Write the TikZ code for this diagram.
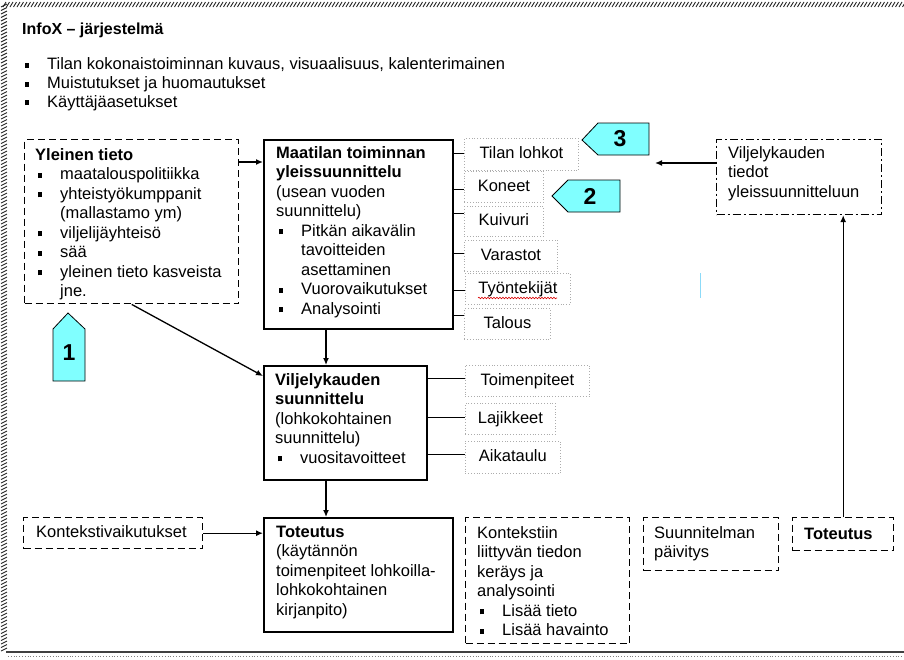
\documentclass[tikz,border=0pt]{standalone}
\usepackage{fontspec}
\setmainfont{Liberation Sans}
\usetikzlibrary{arrows.meta,calc,decorations.pathmorphing}
\definecolor{callcyan}{RGB}{128,255,255}
\newcommand\bodyfs{\fontsize{16.5pt}{19.5pt}\selectfont}
\newcommand\hdrfs{\fontsize{16.5pt}{18.7pt}\selectfont}
\newcommand\titlefs{\fontsize{16pt}{19pt}\selectfont\bfseries}
\newcommand\numfs{\fontsize{23pt}{23pt}\selectfont\bfseries}
\newcommand\bitem{\makebox[25pt][l]{\hspace*{2.5pt}\rule[1.8pt]{4.5pt}{5pt}}}
\newcommand\cont{\hspace*{25pt}}
\tikzset{
  solidbox/.style={draw, line width=1.6pt, anchor=north west, inner sep=0pt},
  dashbox/.style={draw, line width=1.4pt, dash pattern=on 7pt off 4pt, anchor=north west, inner sep=0pt},
  dashdotbox/.style={draw, line width=1.2pt, dash pattern=on 8pt off 3pt on 2pt off 3pt, anchor=north west, inner sep=0pt},
  dotbox/.style={draw=gray!65, line width=0.8pt, dotted, anchor=north west, inner sep=0pt,
    font=\bodyfs, text height=12pt, text depth=3.5pt},
  txt/.style={anchor=north west, inner sep=0pt, align=left, font=\bodyfs},
  arr/.style={line width=1.3pt, -{Latex[length=7pt,width=6pt]}},
  conn/.style={line width=1.3pt},
  callout/.style={fill=callcyan, draw=black, line width=0.8pt},
  num/.style={font=\numfs, inner sep=0pt},
  hatch/.style={line width=0.9pt, black!85}
}
\begin{document}
\begin{tikzpicture}[x=1pt,y=-1pt]
\useasboundingbox (0,0) rectangle (904,659);

% outer frame
\foreach \x in {3,6.5,...,903} {\draw[hatch] (\x,7) -- (\x+3,2);}
\foreach \y in {4,7.5,...,648} {\draw[hatch] (1,\y+3) -- (7,\y);}
\draw[line width=1.5pt, black!75] (6,652) -- (904,652);
\draw[dotted, line width=0.8pt, gray] (8,656) -- (904,656);

% title and header list
\node[anchor=west, inner sep=0pt, font=\titlefs] (title) at (22,30) {InfoX – järjestelmä};
\node[anchor=north west, inner sep=0pt, align=left, font=\hdrfs] (hdr) at (22,56.35)
  {\strut\bitem Tilan kokonaistoiminnan kuvaus, visuaalisuus, kalenterimainen\\
   \bitem Muistutukset ja huomautukset\\
   \bitem Käyttäjäasetukset};

% Yleinen tieto
\node[dashbox, minimum width=214pt, minimum height=164pt] (yle) at (24,139) {};
\node[txt] (yletxt) at (35,146.35)
  {\strut\textbf{Yleinen tieto}\\
   \bitem maatalouspolitiikka\\
   \bitem yhteistyökumppanit\\
   \cont(mallastamo ym)\\
   \bitem viljelijäyhteisö\\
   \bitem sää\\
   \bitem yleinen tieto kasveista\\
   \cont jne.};

% Maatilan toiminnan yleissuunnittelu
\node[solidbox, minimum width=189pt, minimum height=189pt] (maat) at (263,139) {};
\node[txt] (maattxt) at (276,144.35)
  {\strut\textbf{Maatilan toiminnan}\\
   \textbf{yleissuunnittelu}\\
   (usean vuoden\\
   suunnittelu)\\
   \bitem Pitkän aikavälin\\
   \cont tavoitteiden\\
   \cont asettaminen\\
   \bitem Vuorovaikutukset\\
   \bitem Analysointi};

% side boxes of Maatilan
\node[dotbox, minimum width=114pt, minimum height=32pt] (tl) at (464,138) {Tilan lohkot};
\node[dotbox, minimum width=79pt, minimum height=31pt] (ko) at (464,171) {Koneet};
\node[dotbox, minimum width=79pt, minimum height=30pt] (ku) at (464,206) {Kuivuri};
\node[dotbox, minimum width=93pt, minimum height=31pt] (va) at (464,240) {Varastot};
\node[dotbox, minimum width=105pt, minimum height=31pt] (ty) at (465,273) {Työntekijät};
\node[dotbox, minimum width=86pt, minimum height=31pt] (ta) at (464,308) {Talous};
\draw[red!85!black, line width=0.6pt, decorate, decoration={snake, segment length=3pt, amplitude=0.8pt}] (478,298) -- (557,298);

\path ($(tl.west)+(0,-1)$) coordinate (ctl);
\path ($(ko.west)+(0,2.5)$) coordinate (cko);
\path ($(ku.west)+(0,-8)$) coordinate (cku);
\path ($(va.west)+(0,-2.5)$) coordinate (cva);
\path ($(ty.west)+(0,1.5)$) coordinate (cty);
\path ($(ta.west)+(0,-8.5)$) coordinate (cta);
\foreach \c in {ctl,cko,cku,cva,cty,cta} {\draw[conn] (\c -| maat.east) -- (\c);}

% Viljelykauden suunnittelu
\node[solidbox, minimum width=163pt, minimum height=114pt] (vs) at (263,365) {};
\node[txt] (vstxt) at (275,371.35)
  {\strut\textbf{Viljelykauden}\\
   \textbf{suunnittelu}\\
   (lohkokohtainen\\
   suunnittelu)\\
   \bitem vuositavoitteet};

\node[dotbox, minimum width=124pt, minimum height=31pt] (tp) at (465,365) {Toimenpiteet};
\node[dotbox, minimum width=90pt, minimum height=31pt] (la) at (465,403) {Lajikkeet};
\node[dotbox, minimum width=95pt, minimum height=32pt] (ai) at (465,441) {Aikataulu};
\path ($(tp.west)+(0,-2.5)$) coordinate (ctp);
\path ($(la.west)+(0,-1.5)$) coordinate (cla);
\path ($(ai.west)+(0,-3)$) coordinate (cai);
\foreach \c in {ctp,cla,cai} {\draw[conn] (\c -| vs.east) -- (\c);}

% Toteutus
\node[solidbox, minimum width=189pt, minimum height=114pt] (tot) at (263,517) {};
\node[txt] (tottxt) at (276,523.35)
  {\strut\textbf{Toteutus}\\
   (käytännön\\
   toimenpiteet lohkoilla-\\
   lohkokohtainen\\
   kirjanpito)};

% Kontekstivaikutukset
\node[dashbox, minimum width=179pt, minimum height=31pt] (kon) at (23,517) {};
\node[txt] (kontxt) at (36,523.35) {\strut Kontekstivaikutukset};

% Kontekstiin liittyvan ...
\node[dashbox, minimum width=164pt, minimum height=126pt] (ktx) at (465,517) {};
\node[txt] (ktxtxt) at (477,524.35)
  {\strut Kontekstiin\\
   liittyvän tiedon\\
   keräys ja\\
   analysointi\\
   \bitem Lisää tieto\\
   \bitem Lisää havainto};

% Suunnitelman paivitys
\node[dashbox, minimum width=135pt, minimum height=53pt] (supd) at (643,517) {};
\node[txt] (supdtxt) at (654,524.35) {\strut Suunnitelman\\ päivitys};

% Toteutus (small)
\node[dashbox, minimum width=101pt, minimum height=33pt] (tot2) at (792,517) {};
\node[txt] (tot2txt) at (804,525.35) {\strut\textbf{Toteutus}};

% Viljelykauden tiedot yleissuunnitteluun
\node[dashdotbox, minimum width=165pt, minimum height=75pt] (vtied) at (716,139) {};
\node[txt] (vtiedtxt) at (728,144.35)
  {\strut Viljelykauden\\ tiedot\\ yleissuunnitteluun};

% arrows
\path ($(yle.north east)+(0,23)$) coordinate (a1);
\draw[arr] (a1) -- (a1 -| maat.west);
\draw[arr] (yle.south) -- ($(vs.north west)+(0,11)$);
\path ($(maat.south west)+(63,0)$) coordinate (a2);
\draw[arr] (a2) -- (a2 |- vs.north);
\path ($(vs.south west)+(63,0)$) coordinate (a3);
\draw[arr] (a3) -- (a3 |- tot.north);
\draw[arr] (kon.east) -- (kon.east -| tot.west);
\path ($(vtied.north west)+(0,24)$) coordinate (a4);
\coordinate (a4end) at (655,163);
\draw[arr] (a4) -- (a4end);
\draw[arr] (tot2.north) -- (tot2.north |- vtied.south);

% callouts
\draw[callout] (582,140) -- (598,123) -- (649,123) -- (649,155) -- (598,155) -- cycle;
\node[num] (n3) at (620,139) {3};
\draw[callout] (552,196) -- (568,180) -- (620,180) -- (620,212) -- (568,212) -- cycle;
\node[num] (n2) at (590,196) {2};
\draw[callout] (68,313) -- (85,329) -- (85,381) -- (53,381) -- (53,329) -- cycle;
\node[num] (n1) at (69,353) {1};

% cursor mark
\draw[cyan!45, line width=1pt] (700,273) -- (700,298);
\end{tikzpicture}
\end{document}
